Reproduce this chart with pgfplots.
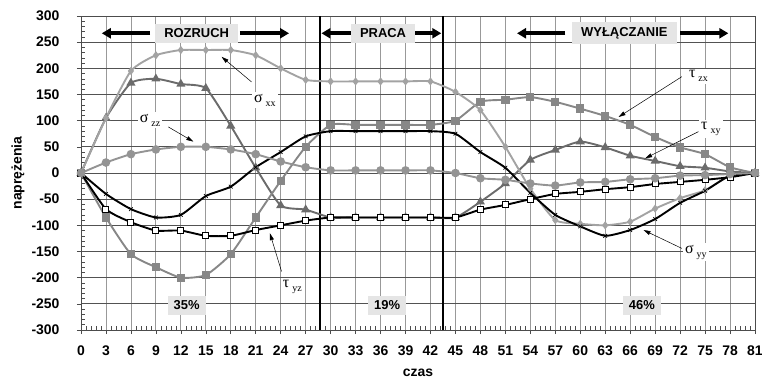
\documentclass[border=0pt]{standalone}
\usepackage{fontspec}
\setmainfont{Liberation Sans}
\newfontfamily\greekserif{Liberation Serif}
\usepackage{pgfplots}
\pgfplotsset{compat=1.18}
\usepackage{pgfplotstable}
\usetikzlibrary{arrows.meta}

\definecolor{sxx}{gray}{0.64}
\definecolor{txy}{gray}{0.42}
\definecolor{tzx}{gray}{0.53}
\definecolor{szz}{gray}{0.58}
\definecolor{phasebg}{gray}{0.9}

% stress components over time
\pgfplotstableread{
t   sxx  syy  szz  txy  tyz  tzx
0   0    0    0    0    0    0
3   105  -40  20   105  -69  -85
6   195  -69  36   172  -94  -155
9   225  -85  45   180  -110 -180
12  235  -80  50   170  -110 -200
15  235  -44  50   162  -120 -195
18  235  -26  45   90   -120 -155
21  225  11   36   10   -109 -85
24  200  40   22   -62  -100 -15
27  178  70   11   -70  -91  50
30  175  80   5    -85  -85  92
33  175  80   5    -85  -85  92
36  175  80   5    -85  -85  92
39  175  80   5    -85  -85  92
42  175  80   5    -85  -85  92
45  155  75   0    -85  -85  100
48  120  40   -10  -55  -70  136
51  50   10   -13  -20  -61  140
54  -30  -38  -20  25   -50  145
57  -90  -80  -24  44   -40  136
60  -97  -102 -18  60   -36  123
63  -100 -120 -17  49   -31  109
66  -93  -109 -12  33   -27  92
69  -68  -88  -10  23   -21  69
72  -48  -57  -5   13   -17  49
75  -33  -34  -4   10   -13  36
78  -5   -5   -2   3    -8   11
81  0    0    0    0    0    0
}\stress

\newcommand\comp[2]{{\greekserif\fontsize{16}{16}\selectfont #1}\hspace{3bp}\raisebox{-4bp}{\greekserif\fontsize{10}{10}\selectfont #2}}

\begin{document}
\begin{tikzpicture}
\useasboundingbox (-81bp,-55bp) rectangle (681bp,330bp);
\begin{axis}[
  scale only axis, width=674bp, height=314bp,
  xmin=0, xmax=81, ymin=-300, ymax=300,
  xtick={0,3,...,81}, ytick={-300,-250,...,300},
  minor x tick num=4, minor y tick num=4,
  xtick pos=bottom, ytick pos=left,
  tick align=outside, major tick length=4bp, minor tick length=-4bp,
  tick style={black!70, line width=0.6bp},
  grid=major,
  x grid style={black!40, line width=0.8bp},
  y grid style={black!68, line width=0.8bp},
  axis line style={black!70, line width=0.8bp},
  /pgf/number format/assume math mode=true,
  xticklabel style={font=\bfseries\fontsize{14}{14}\selectfont, yshift=-8bp},
  yticklabel style={font=\bfseries\fontsize{14}{14}\selectfont, anchor=east},
  yticklabel={\pgfmathprintnumber{\tick}\kern14bp},
  xlabel={czas}, ylabel={naprężenia},
  every axis x label/.style={at={(axis description cs:0.5,-0.137)}, anchor=center,
    font=\bfseries\fontsize{14}{14}\selectfont},
  every axis y label/.style={at={(axis description cs:-0.0935,0.5)}, rotate=90, anchor=center,
    font=\bfseries\fontsize{14}{14}\selectfont},
  clip=false,
  every axis plot/.append style={smooth, tension=0.35, line width=1.9bp},
  mark options={solid, line width=0.8bp},
]
% phase boundaries
\addplot[black, line width=2.6bp, sharp plot, no marks] coordinates {(28.7,-300) (28.7,300)};
\addplot[black, line width=2.6bp, sharp plot, no marks] coordinates {(43.5,-300) (43.5,300)};

\addplot[txy, mark=triangle*, mark size=3.4bp, mark options={fill=txy, draw=txy}] table[x=t, y=txy] {\stress};
\addplot[tzx, mark=square*, mark size=3.2bp, mark options={fill=tzx, draw=tzx}] table[x=t, y=tzx] {\stress};
\addplot[sxx, mark=diamond*, mark size=2.6bp, mark options={fill=sxx, draw=sxx}] table[x=t, y=sxx] {\stress};
\addplot[black, mark=x, mark size=2.6bp, mark options={black, line width=0.7bp}] table[x=t, y=syy] {\stress};
\addplot[black, mark=square*, mark size=3bp, mark options={fill=white, draw=black, line width=1bp}] table[x=t, y=tyz] {\stress};
\addplot[szz, mark=*, mark size=3.3bp, mark options={fill=szz, draw=szz}] table[x=t, y=szz] {\stress};

% phase captions
\begin{scope}[phase/.style={fill=phasebg, inner xsep=9bp, inner ysep=5bp, font=\bfseries\fontsize{13}{13}\selectfont},
              big/.style={-{Triangle[length=9bp,width=10bp]}, line width=4bp}]
\draw[big] (axis cs:8.3,267) -- (axis cs:2.5,267);
\draw[big] (axis cs:19.1,267) -- (axis cs:25.0,267);
\node[phase] at (axis cs:13.9,267) {ROZRUCH};
\draw[big] (axis cs:32.8,267) -- (axis cs:28.9,267);
\draw[big] (axis cs:39.9,267) -- (axis cs:43.3,267);
\node[phase] at (axis cs:36.3,267) {PRACA};
\draw[big] (axis cs:58.2,267) -- (axis cs:52.4,267);
\draw[big] (axis cs:72.0,267) -- (axis cs:77.8,267);
\node[phase] at (axis cs:65.3,267) {WYŁĄCZANIE};
\node[phase, inner xsep=6bp] at (axis cs:12.7,-253) {35\%};
\node[phase, inner xsep=6bp] at (axis cs:36.8,-253) {19\%};
\node[phase, inner xsep=6bp] at (axis cs:67.4,-253) {46\%};
\end{scope}

% component labels with leader arrows
\begin{scope}[lead/.style={-{Triangle[length=7bp,width=4bp]}, line width=0.5bp},
              lab/.style={fill=white, inner sep=2bp}]
\draw[lead] (axis cs:20.5,174) -- (axis cs:16.9,222);
\node[lab] at (axis cs:22.1,139) {\comp{σ}{xx}};
\draw[lead] (axis cs:10.5,88) -- (axis cs:13.5,60);
\node[lab] at (axis cs:8.3,101) {\comp{σ}{zz}};
\draw[lead] (axis cs:24.1,-188) -- (axis cs:22.7,-115);
\node[lab] at (axis cs:25.4,-218) {\comp{τ}{yz}};
\draw[lead] (axis cs:72.2,184) -- (axis cs:64.6,107);
\node[lab] at (axis cs:74.2,185) {\comp{τ}{zx}};
\draw[lead] (axis cs:74.2,79) -- (axis cs:67.8,28);
\node[lab] at (axis cs:75.7,84) {\comp{τ}{xy}};
\draw[lead] (axis cs:72.2,-144) -- (axis cs:67.6,-109);
\node[lab] at (axis cs:73.9,-151) {\comp{σ}{yy}};
\end{scope}
\end{axis}
\end{tikzpicture}
\end{document}
